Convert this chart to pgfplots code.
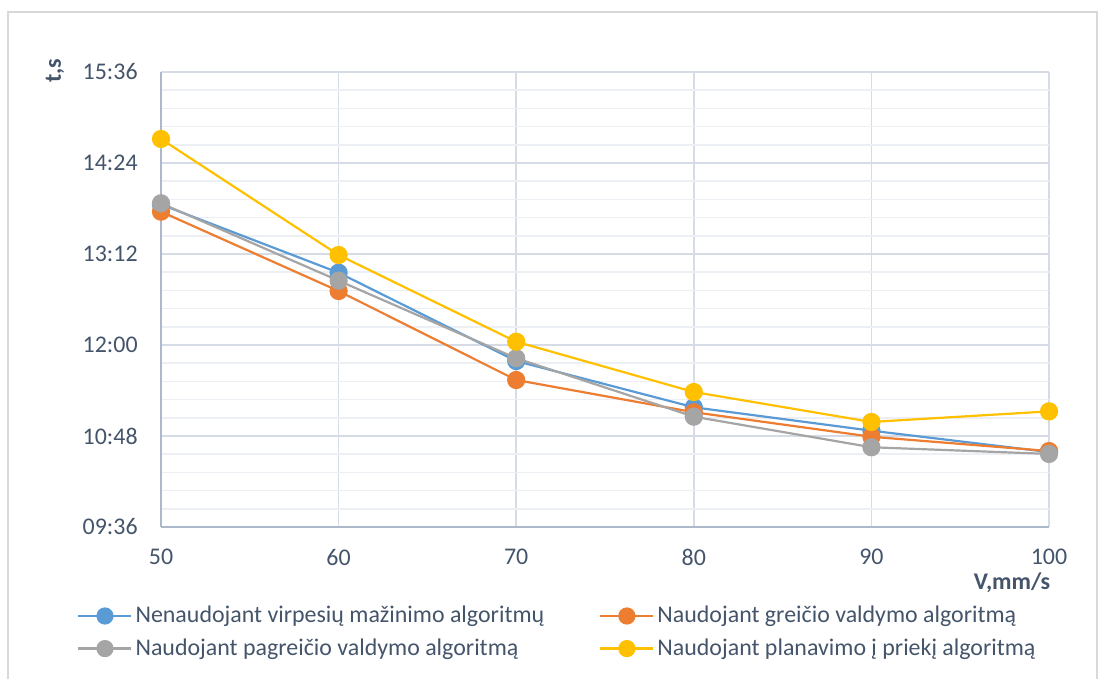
\documentclass[border=0pt]{standalone}
\usepackage{pgfplots}
\pgfplotsset{compat=1.18}
\usepackage{fontspec}
\setmainfont{Carlito}
\definecolor{cblue}{HTML}{5B9BD5}
\definecolor{corange}{HTML}{ED7D31}
\definecolor{cgray}{HTML}{A5A5A5}
\definecolor{cyellow}{HTML}{FFC000}
\definecolor{textc}{HTML}{44546A}
\definecolor{axisc}{HTML}{ACB9CA}
\definecolor{gridmaj}{HTML}{D6DCE5}
\definecolor{gridmin}{HTML}{ECEFF3}
\definecolor{framec}{HTML}{D9D9D9}
\begin{document}
\begin{tikzpicture}[x=1bp,y=1bp]
\path (0,0) rectangle (551.5,339.5);
\draw[color=framec, line width=0.75bp] (4,0) -- (4,333.5) -- (548.5,333.5) -- (548.5,0);
\begin{axis}[
  at={(80.5bp,76bp)}, anchor=south west,
  width=444bp, height=227.5bp, scale only axis,
  xmin=50, xmax=100, ymin=576, ymax=936,
  xtick={50,60,70,80,90,100},
  ytick={576,648,720,792,864,936},
  yticklabels={09:36,10:48,12:00,13:12,14:24,15:36},
  minor y tick num=4,
  xmajorgrids, ymajorgrids, yminorgrids,
  major grid style={color=gridmaj, line width=0.75bp},
  minor grid style={color=gridmin, line width=0.75bp},
  axis lines*=left,
  axis line style={color=axisc, line width=1bp, -},
  major tick length=0pt, minor tick length=0pt,
  /pgf/number format/assume math mode=true,
  tick label style={font=\fontsize{12}{14}\selectfont, color=textc, inner sep=0pt},
  yticklabel shift=11.5bp,
  xticklabel shift=11bp,
  clip=false,
  legend columns=2,
  legend cell align=left,
  legend style={at={(-0.0946,-0.1666)}, anchor=north west, draw=none, fill=none,
    inner sep=0pt, row sep=3.5bp,
    font=\fontsize{12}{14}\selectfont, text=textc,
    nodes={inner sep=1.5bp},
    /tikz/column 2/.style={column sep=26bp}},
  legend image code/.code={\draw[mark repeat=2,mark phase=2,#1, mark size=3.75bp] plot coordinates {(0bp,0bp) (13.25bp,0bp) (26.5bp,0bp)};},
  every axis plot/.append style={line width=1.1bp, mark=*, mark size=4bp},
]
\addplot[color=cblue, mark options={fill=cblue, draw=cblue}] coordinates {
(50,831.2) (60,777.2) (70,707.3) (80,670.7) (90,652.2) (100,635.3)};
\addlegendentry{Nenaudojant virpesių mažinimo algoritmų}
\addplot[color=corange, mark options={fill=corange, draw=corange}] coordinates {
(50,825.5) (60,762.7) (70,692.3) (80,666.8) (90,647.4) (100,636.1)};
\addlegendentry{Naudojant greičio valdymo algoritmą}
\addplot[color=cgray, mark options={fill=cgray, draw=cgray}] coordinates {
(50,832.1) (60,770.9) (70,709.5) (80,663.3) (90,639.1) (100,633.8)};
\addlegendentry{Naudojant pagreičio valdymo algoritmą}
\addplot[color=cyellow, mark options={fill=cyellow, draw=cyellow}] coordinates {
(50,883.0) (60,791.2) (70,722.6) (80,682.8) (90,659.1) (100,667.5)};
\addlegendentry{Naudojant planavimo į priekį algoritmą}
\end{axis}
\node[rotate=90, font=\fontsize{12}{14}\selectfont\bfseries, text=textc] at (27.5,304) {t,s};
\node[font=\fontsize{12}{14}\selectfont\bfseries, text=textc] at (506,48) {V,mm/s};
\end{tikzpicture}
\end{document}
